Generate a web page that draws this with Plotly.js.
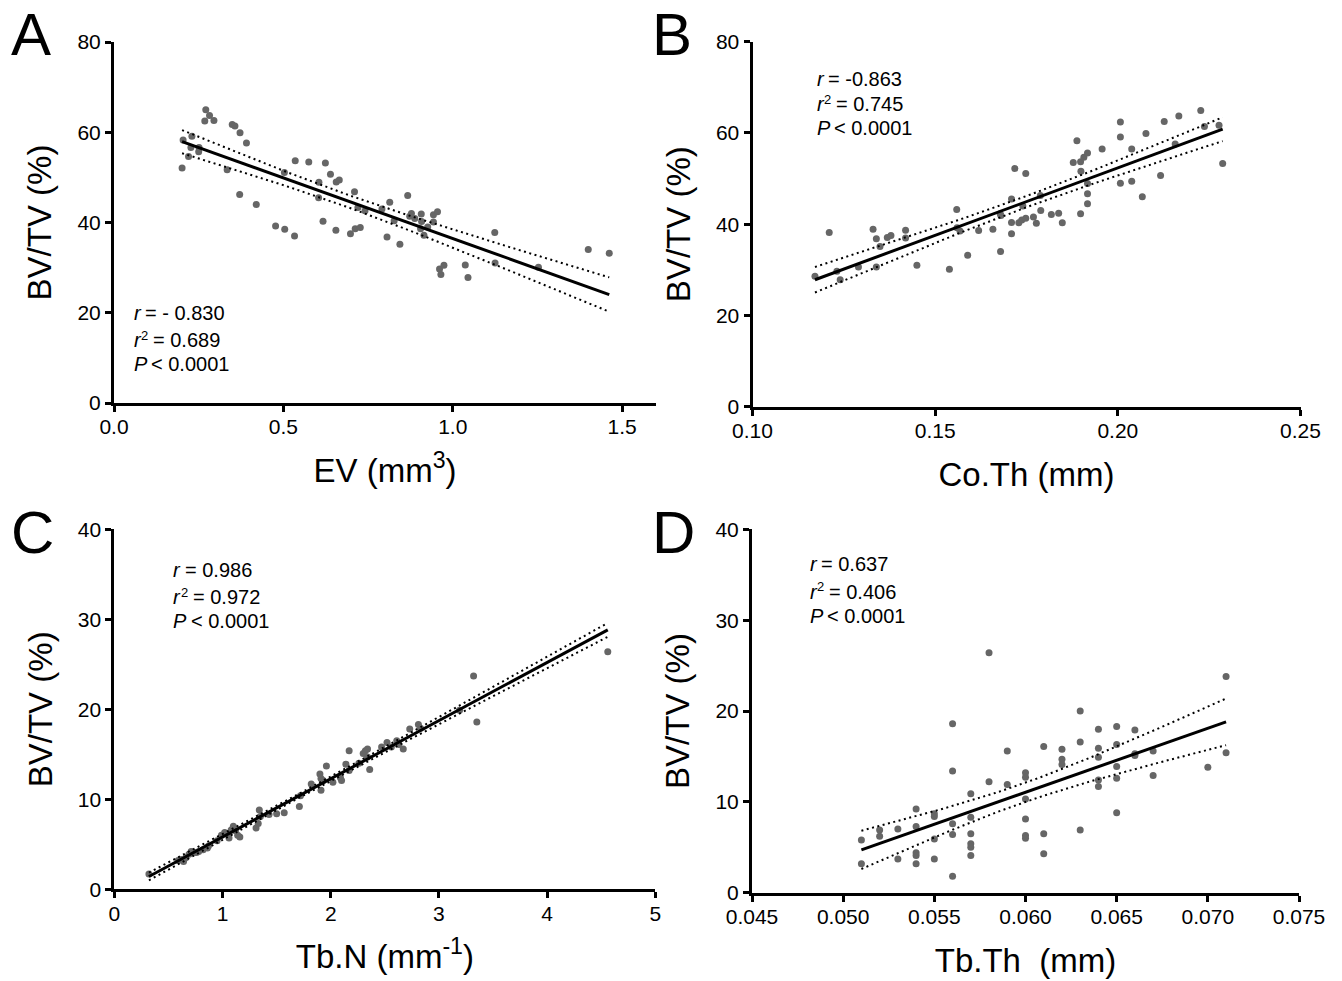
<!DOCTYPE html>
<html>
<head>
<meta charset="utf-8">
<script src="https://cdn.plot.ly/plotly-3.0.1.min.js"></script>
<style>html,body{margin:0;padding:0;background:#fff;}#chart{width:1342px;height:981px;}</style>
</head>
<body>
<div id="chart"></div>
<script>
// ---------- Data ----------
// Panel A: EV (mm^3) vs BV/TV (%)
const A_ev = [0.204,0.201,0.220,0.230,0.227,0.251,0.250,0.271,0.282,0.268,0.295,0.349,0.357,0.372,0.391,0.334,0.371,0.420,0.477,0.504,0.533,0.503,0.535,0.575,0.624,0.639,0.605,0.604,0.656,0.665,0.617,0.655,0.710,0.720,0.741,0.698,0.712,0.727,0.791,0.814,0.827,0.806,0.844,0.867,0.873,0.878,0.888,0.907,0.908,0.905,0.915,0.926,0.943,0.955,0.943,0.961,0.974,0.965,1.037,1.045,1.124,1.125,1.253,1.400,1.462];
const A_bvtv = [58.3,52.1,54.6,59.1,56.6,56.6,55.7,65.0,63.7,62.5,62.6,61.7,61.4,59.9,57.6,51.7,46.2,44.0,39.2,38.5,37.0,51.1,53.7,53.4,53.2,50.7,48.9,45.5,49.0,49.4,40.3,38.3,46.8,43.3,42.6,37.5,38.6,38.9,43.0,44.5,40.4,36.8,35.2,46.0,41.4,42.0,40.9,41.9,40.2,38.6,37.2,39.0,41.7,42.4,40.1,29.7,30.5,28.5,30.6,27.8,37.8,31.0,30.1,34.0,33.2];

// Panel B: Co.Th (mm) vs BV/TV (%)
const B_coth = [0.1171,0.1210,0.1231,0.1240,0.1290,0.1330,0.1339,0.1349,0.1339,0.1369,0.1379,0.1419,0.1419,0.1450,0.1539,0.1559,0.1560,0.1568,0.1589,0.1619,0.1658,0.1678,0.1680,0.1679,0.1709,0.1709,0.1709,0.1718,0.1729,0.1737,0.1740,0.1748,0.1748,0.1769,0.1777,0.1788,0.1789,0.1818,0.1838,0.1848,0.1878,0.1888,0.1898,0.1907,0.1917,0.1899,0.1917,0.1917,0.1917,0.1898,0.1957,0.2007,0.2007,0.2007,0.2038,0.2038,0.2067,0.2077,0.2117,0.2127,0.2157,0.2167,0.2227,0.2237,0.2277,0.2287];
const B_bvtv = [28.6,38.2,29.7,27.8,30.6,38.9,36.8,35.1,30.6,37.1,37.5,38.7,37.0,31.0,30.1,43.2,39.2,38.5,33.2,38.6,38.9,42.3,41.9,34.0,45.5,40.4,37.9,52.2,40.3,40.9,44.0,51.1,41.3,41.6,40.2,46.3,43.0,42.1,42.4,40.3,53.5,58.3,53.7,54.7,55.6,51.6,48.9,46.7,44.5,42.3,56.5,62.4,59.1,49.0,56.5,49.4,46.0,59.9,50.7,62.5,57.6,63.7,64.9,61.4,61.7,53.3];

// Panel C: Tb.N (mm^-1) vs BV/TV (%)
const C_tbn = [0.32,0.59,0.62,0.64,0.66,0.69,0.71,0.74,0.76,0.78,0.82,0.86,0.87,0.95,0.99,1.02,1.05,1.06,1.08,1.10,1.12,1.14,1.16,1.31,1.33,1.34,1.35,1.43,1.50,1.57,1.71,1.72,1.82,1.90,1.91,1.91,1.93,1.96,2.02,2.09,2.10,2.14,2.17,2.17,2.26,2.30,2.32,2.34,2.34,2.36,2.47,2.52,2.56,2.61,2.63,2.67,2.73,2.81,2.83,3.19,3.32,3.35,4.56];
const C_bvtv = [1.7,3.2,3.3,3.1,3.5,3.9,4.2,4.1,4.1,4.2,4.4,4.6,4.8,5.4,6.0,6.3,6.2,5.7,6.6,7.0,6.5,6.0,5.8,6.8,7.3,8.8,8.1,8.3,8.4,8.5,9.2,10.4,11.7,12.8,12.3,11.0,12.1,13.7,11.9,12.4,12.1,13.9,15.4,13.2,14.0,15.1,15.4,15.6,14.7,13.3,15.8,16.3,15.8,16.5,16.1,15.6,17.8,18.3,17.9,19.9,23.7,18.6,26.4];

// Panel D: Tb.Th (mm) vs BV/TV (%)
const D_tbth = [0.051,0.051,0.052,0.052,0.053,0.053,0.054,0.054,0.054,0.054,0.054,0.055,0.055,0.055,0.055,0.056,0.056,0.056,0.056,0.056,0.057,0.057,0.057,0.057,0.057,0.057,0.058,0.058,0.059,0.059,0.060,0.060,0.060,0.060,0.060,0.060,0.061,0.061,0.061,0.062,0.062,0.062,0.063,0.063,0.063,0.064,0.064,0.064,0.064,0.064,0.065,0.065,0.065,0.065,0.065,0.066,0.066,0.066,0.067,0.067,0.070,0.071,0.071];
const D_bvtv = [5.8,3.2,6.9,6.2,7.0,3.7,9.2,7.3,4.4,4.1,3.2,8.7,8.4,5.9,3.7,18.6,13.4,7.6,6.4,1.8,10.9,8.3,6.5,5.4,5.0,4.1,26.4,12.2,15.6,11.9,13.2,12.7,10.3,8.1,6.3,6.0,16.1,6.5,4.3,15.8,14.7,14.1,20.0,16.6,6.9,18.0,15.9,14.9,12.4,11.7,18.3,16.3,13.9,12.6,8.8,17.9,15.3,15.1,15.6,12.9,13.8,23.8,15.4];

// Text
const panelLetters = ["A","B","C","D"];
const xTitles = ["EV (mm<sup>3</sup>)","Co.Th (mm)","Tb.N (mm<sup>-1</sup>)","Tb.Th  (mm)"];
const yTitle = "BV/TV (%)";
// statistics text per panel: r line, r-squared value, P line
const statR   = ["= - 0.830","= -0.863","= 0.986","= 0.637"];
const statR2  = ["= 0.689","= 0.745","= 0.972","= 0.406"];
const statP   = ["&lt; 0.0001","&lt; 0.0001","&lt; 0.0001","&lt; 0.0001"];

// ---------- Linear regression with 95% confidence band ----------
function regress(x, y) {
  const n = x.length;
  const mx = x.reduce((a,b)=>a+b,0)/n, my = y.reduce((a,b)=>a+b,0)/n;
  let sxx=0, sxy=0;
  for (let i=0;i<n;i++){ sxx+=(x[i]-mx)**2; sxy+=(x[i]-mx)*(y[i]-my); }
  const b = sxy/sxx, a = my - b*mx;
  let sse=0; for (let i=0;i<n;i++){ sse+=(y[i]-(a+b*x[i]))**2; }
  const s = Math.sqrt(sse/(n-2));
  const df = n-2, t = 1.96 + 2.4/df;
  const xmin = Math.min(...x), xmax = Math.max(...x);
  const xs=[], up=[], lo=[];
  const N = 60;
  for (let k=0;k<=N;k++){
    const xv = xmin + (xmax-xmin)*k/N;
    const yh = a + b*xv;
    const h = t*s*Math.sqrt(1/n + (xv-mx)**2/sxx);
    xs.push(xv); up.push(yh+h); lo.push(yh-h);
  }
  return {line:{x:[xmin,xmax], y:[a+b*xmin, a+b*xmax]}, xs, up, lo};
}

const W = 1342, H = 981;
const px = v => v/W, py = v => 1 - v/H;
const FONT = "Liberation Sans, Arial, Helvetica, sans-serif";
const markerColor = "#666666";

const panels = [
  {x:A_ev, y:A_bvtv, xa:"x", ya:"y"},
  {x:B_coth, y:B_bvtv, xa:"x2", ya:"y2"},
  {x:C_tbn, y:C_bvtv, xa:"x3", ya:"y3"},
  {x:D_tbth, y:D_bvtv, xa:"x4", ya:"y4"}
];

const traces = [];
panels.forEach(p => {
  const r = regress(p.x, p.y);
  traces.push({type:"scatter", mode:"markers", x:p.x, y:p.y, xaxis:p.xa, yaxis:p.ya,
    marker:{color:markerColor, size:7, line:{width:0}}, hoverinfo:"x+y"});
  traces.push({type:"scatter", mode:"lines", x:r.xs, y:r.up, xaxis:p.xa, yaxis:p.ya,
    line:{color:"#000", width:2, dash:"2px,3.5px"}, hoverinfo:"skip"});
  traces.push({type:"scatter", mode:"lines", x:r.xs, y:r.lo, xaxis:p.xa, yaxis:p.ya,
    line:{color:"#000", width:2, dash:"2px,3.5px"}, hoverinfo:"skip"});
  traces.push({type:"scatter", mode:"lines", x:r.line.x, y:r.line.y, xaxis:p.xa, yaxis:p.ya,
    line:{color:"#000", width:3}, hoverinfo:"skip"});
});

function axisBase(extra) {
  return Object.assign({
    showline:true, linecolor:"#000", linewidth:3,
    ticks:"outside", ticklen:6, tickwidth:2.5, tickcolor:"#000",
    showgrid:false, zeroline:false, mirror:false,
    tickfont:{family:FONT, size:21, color:"#000"},
    fixedrange:true, automargin:false
  }, extra);
}
function xTitleObj(t){ return {text:t, font:{family:FONT, size:33, color:"#000"}, standoff:22}; }
function yTitleObj(){ return {text:yTitle, font:{family:FONT, size:33, color:"#000"}, standoff:16}; }

const layout = {
  width:W, height:H,
  margin:{l:0,r:0,t:0,b:0},
  paper_bgcolor:"#fff", plot_bgcolor:"#fff",
  showlegend:false,
  font:{family:FONT, color:"#000"},
  xaxis: axisBase({domain:[px(114),px(656)], range:[0,1.6], tick0:0, dtick:0.5, tickformat:".1f", anchor:"y", ticklabelstandoff:-3, title:xTitleObj(xTitles[0])}),
  yaxis: axisBase({domain:[py(403),py(42)], range:[0,80], tick0:0, dtick:20, anchor:"x", title:yTitleObj()}),
  xaxis2: axisBase({domain:[px(752.5),px(1300.5)], range:[0.10,0.25], tick0:0.10, dtick:0.05, tickformat:".2f", anchor:"y2", ticklabelstandoff:-3, title:xTitleObj(xTitles[1])}),
  yaxis2: axisBase({domain:[py(406.7),py(41.7)], range:[0,80], tick0:0, dtick:20, anchor:"x2", title:yTitleObj()}),
  xaxis3: axisBase({domain:[px(114.3),px(655.4)], range:[0,5], tick0:0, dtick:1, anchor:"y3", ticklabelstandoff:-3, title:xTitleObj(xTitles[2])}),
  yaxis3: axisBase({domain:[py(889.3),py(529.3)], range:[0,40], tick0:0, dtick:10, anchor:"x3", title:yTitleObj()}),
  xaxis4: axisBase({domain:[px(752),px(1299)], range:[0.045,0.075], tick0:0.045, dtick:0.005, tickformat:".3f", anchor:"y4", ticklabelstandoff:-3, title:xTitleObj(xTitles[3])}),
  yaxis4: axisBase({domain:[py(892.7),py(529.3)], range:[0,40], tick0:0, dtick:10, anchor:"x4", title:yTitleObj()}),
  annotations: []
};

function addText(text, x, y, size, extraFont) {
  layout.annotations.push({text:text, xref:"paper", yref:"paper", x:px(x), y:py(y),
    xanchor:"left", yanchor:"middle", showarrow:false,
    font:Object.assign({family:FONT, size:size, color:"#000"}, extraFont || {})});
}

// Panel letters
const letterPos = [[9,34],[650,34],[9,532],[650,532]];
panelLetters.forEach((L,i) => addText(L, letterPos[i][0], letterPos[i][1], 60));

// Stats text (italic symbols, raised 2, plain values)
const S = 20;
const statPos = [
  {x:131.5, ys:[313,340,363.5]},
  {x:814.5, ys:[79,104.5,128]},
  {x:171.5, ys:[570,597,620.5]},
  {x:807.5, ys:[564.3,591.5,615.5]}
];
statPos.forEach((s,i) => {
  const [y1,y2,y3] = s.ys;
  addText("r", s.x, y1, S, {style:"italic"});
  addText(statR[i], s.x + 11, y1, S);
  addText("r", s.x, y2, S, {style:"italic"});
  addText("2", s.x + 7.5, y2 - 5, 13);
  addText(statR2[i], s.x + 19, y2, S);
  addText("P", s.x, y3, S, {style:"italic"});
  addText(statP[i], s.x + 17.5, y3, S);
});

Plotly.newPlot("chart", traces, layout, {displayModeBar:false});
</script>
</body>
</html>
